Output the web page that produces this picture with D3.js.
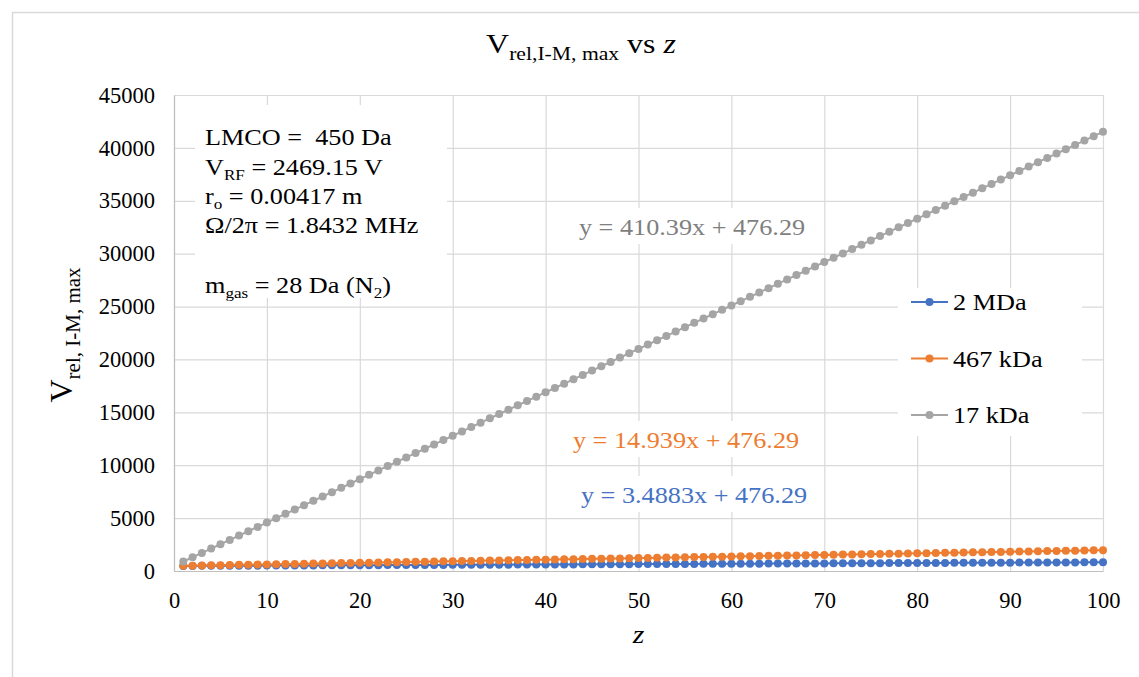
<!DOCTYPE html>
<html>
<head>
<meta charset="utf-8">
<script src="https://cdn.jsdelivr.net/npm/d3@7"></script>
<style>
  body { margin: 0; background: #fff; }
  svg text { font-family: "Liberation Serif", "DejaVu Serif", serif; }
</style>
</head>
<body>
<svg id="chart"></svg>
<script>
// z values (charge states)
const zValues = d3.range(1, 101);

// V_rel,I-M,max for each mass
const v2MDa = [480,483,487,490,494,497,501,504,508,511,515,518,522,525,529,532,536,539,543,546,
  550,553,557,560,563,567,570,574,577,581,584,588,591,595,598,602,605,609,612,616,
  619,623,626,630,633,637,640,644,647,651,654,658,661,665,668,672,675,679,682,686,
  689,693,696,700,703,707,710,713,717,720,724,727,731,734,738,741,745,748,752,755,
  759,762,766,769,773,776,780,783,787,790,794,797,801,804,808,811,815,818,822,825];

const v467kDa = [491,506,521,536,551,566,581,596,611,626,641,656,670,685,700,715,730,745,760,775,
  790,805,820,835,850,865,880,895,910,924,939,954,969,984,999,1014,1029,1044,1059,1074,
  1089,1104,1119,1134,1149,1163,1178,1193,1208,1223,1238,1253,1268,1283,1298,1313,1328,1343,1358,1373,
  1388,1403,1417,1432,1447,1462,1477,1492,1507,1522,1537,1552,1567,1582,1597,1612,1627,1642,1656,1671,
  1686,1701,1716,1731,1746,1761,1776,1791,1806,1821,1836,1851,1866,1881,1895,1910,1925,1940,1955,1970];

const v17kDa = [887,1297,1707,2118,2528,2939,3349,3759,4170,4580,4991,5401,5811,6222,6632,7043,7453,7863,8274,8684,
  9094,9505,9915,10326,10736,11146,11557,11967,12378,12788,13198,13609,14019,14430,14840,15250,15661,16071,16482,16892,
  17302,17713,18123,18533,18944,19354,19765,20175,20585,20996,21406,21817,22227,22637,23048,23458,23869,24279,24689,25100,
  25510,25920,26331,26741,27152,27562,27972,28383,28793,29204,29614,30024,30435,30845,31256,31666,32076,32487,32897,33307,
  33718,34128,34539,34949,35359,35770,36180,36591,37001,37411,37822,38232,38643,39053,39463,39874,40284,40695,41105,41515];

const seriesNames = ['2 MDa', '467 kDa', '17 kDa'];
const seriesColors = ['#4472C4', '#ED7D31', '#A5A5A5'];
const trendLabels = ['y = 3.4883x + 476.29', 'y = 14.939x + 476.29', 'y = 410.39x + 476.29'];
const trendColors = ['#4472C4', '#ED7D31', '#7F7F7F'];

const xTicks = [0, 10, 20, 30, 40, 50, 60, 70, 80, 90, 100];
const yTicks = [0, 5000, 10000, 15000, 20000, 25000, 30000, 35000, 40000, 45000];

const width = 1139;
const height = 677;
const plot = { left: 174, right: 1103, top: 95, bottom: 571 };
const gridColor = '#D9D9D9';
const stretch = 1.14; // the original's text is a bit wider than plain Times

const svg = d3.select('#chart').attr('width', width).attr('height', height);

// text placed at (x, y), slightly widened
const label = (x, y, size, anchor) => svg.append('g')
  .attr('transform', `translate(${x},${y}) scale(${stretch},1)`)
  .append('text')
  .attr('text-anchor', anchor || 'start')
  .attr('font-size', size)
  .attr('fill', '#000');

// outer chart frame
svg.append('rect')
  .attr('x', 12.5).attr('y', 12.5)
  .attr('width', width).attr('height', height)
  .attr('fill', '#fff').attr('stroke', gridColor).attr('stroke-width', 1.5);

const xScale = d3.scaleLinear().domain([0, 100]).range([plot.left, plot.right]);
const yScale = d3.scaleLinear().domain([0, 45000]).range([plot.bottom, plot.top]);

// gridlines
svg.append('g')
  .attr('transform', `translate(0,${plot.bottom})`)
  .call(d3.axisBottom(xScale).tickValues(xTicks).tickSize(-(plot.bottom - plot.top)).tickFormat(''))
  .call(g => g.select('.domain').remove())
  .call(g => g.selectAll('line').attr('stroke', gridColor).attr('stroke-width', 1.2));

svg.append('g')
  .attr('transform', `translate(${plot.left},0)`)
  .call(d3.axisLeft(yScale).tickValues(yTicks).tickSize(-(plot.right - plot.left)).tickFormat(''))
  .call(g => g.select('.domain').remove())
  .call(g => g.selectAll('line').attr('stroke', gridColor).attr('stroke-width', 1.2));

// axis lines + tick labels
const xAxis = svg.append('g')
  .attr('transform', `translate(0,${plot.bottom})`)
  .call(d3.axisBottom(xScale).tickValues(xTicks).tickSize(0).tickPadding(21).tickFormat(d3.format('d')));
xAxis.select('.domain').attr('stroke', '#BFBFBF').attr('stroke-width', 1.2);
xAxis.selectAll('text').attr('font-size', 22.5).attr('fill', '#000');

const yAxis = svg.append('g')
  .attr('transform', `translate(${plot.left},0)`)
  .call(d3.axisLeft(yScale).tickValues(yTicks).tickSize(0).tickPadding(19).tickFormat(d3.format('d')));
yAxis.select('.domain').attr('stroke', '#BFBFBF').attr('stroke-width', 1.2);
yAxis.selectAll('text').attr('font-size', 22.5).attr('fill', '#000');

// white label boxes (cover the gridlines like the original)
const boxes = [
  { x: 195, y: 105, w: 252, h: 193 },   // info box
  { x: 898, y: 288, w: 184, h: 148 },   // legend
  { x: 572, y: 208, w: 240, h: 36 },
  { x: 566, y: 421, w: 240, h: 36 },
  { x: 572, y: 476, w: 244, h: 36 }
];
svg.append('g').selectAll('rect')
  .data(boxes).enter().append('rect')
  .attr('x', d => d.x).attr('y', d => d.y)
  .attr('width', d => d.w).attr('height', d => d.h)
  .attr('fill', '#fff');

// series
const allSeries = [v2MDa, v467kDa, v17kDa];
const line = d3.line()
  .x((d, i) => xScale(zValues[i]))
  .y(d => yScale(d));

allSeries.forEach((vals, s) => {
  const g = svg.append('g');
  g.append('path')
    .datum(vals)
    .attr('d', line)
    .attr('fill', 'none')
    .attr('stroke', seriesColors[s])
    .attr('stroke-width', 2);
  g.selectAll('circle')
    .data(vals).enter().append('circle')
    .attr('cx', (d, i) => xScale(zValues[i]))
    .attr('cy', d => yScale(d))
    .attr('r', 4)
    .attr('fill', seriesColors[s]);
});

// trendline equations
const trendPos = [
  { x: 694, y: 503 },
  { x: 686, y: 448 },
  { x: 692, y: 235 }
];
trendLabels.forEach((t, i) => {
  label(trendPos[i].x, trendPos[i].y, 23, 'middle')
    .attr('fill', trendColors[i])
    .text(t);
});

// legend
seriesNames.forEach((name, i) => {
  const ly = 302 + i * 56.5;
  svg.append('line')
    .attr('x1', 911).attr('x2', 948).attr('y1', ly).attr('y2', ly)
    .attr('stroke', seriesColors[i]).attr('stroke-width', 2);
  svg.append('circle')
    .attr('cx', 929.5).attr('cy', ly).attr('r', 4)
    .attr('fill', seriesColors[i]);
  label(953, ly + 8, 23).text(name);
});

// info box text
label(205, 145, 23).text('LMCO =\u00a0 450 Da');
const l2 = label(205, 175, 23);
l2.append('tspan').text('V');
l2.append('tspan').attr('font-size', 15).attr('dy', 5).text('RF');
l2.append('tspan').attr('dy', -5).text(' = 2469.15 V');
const l3 = label(205, 204, 23);
l3.append('tspan').text('r');
l3.append('tspan').attr('font-size', 15).attr('dy', 5).text('o');
l3.append('tspan').attr('dy', -5).text(' = 0.00417 m');
label(205, 233, 23).text('\u03a9/2\u03c0 = 1.8432 MHz');
const l5 = label(205, 293, 23);
l5.append('tspan').text('m');
l5.append('tspan').attr('font-size', 15).attr('dy', 5).text('gas');
l5.append('tspan').attr('dy', -5).text(' = 28 Da (N');
l5.append('tspan').attr('font-size', 15).attr('dy', 5).text('2');
l5.append('tspan').attr('dy', -5).text(')');

// title
const title = label(581, 53, 28, 'middle');
title.append('tspan').text('V');
title.append('tspan').attr('font-size', 19).attr('dy', 7).text('rel,I-M, max');
title.append('tspan').attr('dy', -7).text(' vs ');
title.append('tspan').attr('font-style', 'italic').text('z');

// axis titles
label(xScale(50), 643, 26, 'middle')
  .attr('font-style', 'italic')
  .text('z');

const yTitle = svg.append('text')
  .attr('transform', 'translate(72,335) rotate(-90)')
  .attr('text-anchor', 'middle')
  .attr('font-size', 32).attr('fill', '#000');
yTitle.append('tspan').text('V');
yTitle.append('tspan').attr('font-size', 21).attr('dy', 8).text('rel, I-M, max');
</script>
</body>
</html>
